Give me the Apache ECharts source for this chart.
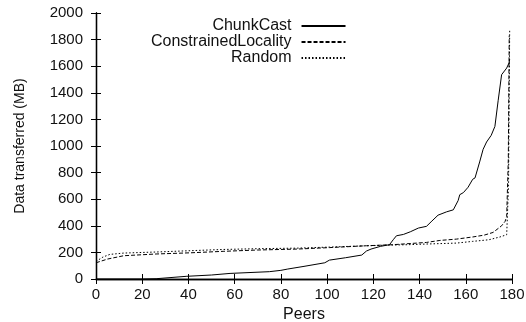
<!DOCTYPE html>
<html>
<head>
<meta charset="utf-8">
<script src="https://cdn.jsdelivr.net/npm/echarts@6/dist/echarts.min.js"></script>
<style>
  html, body { margin: 0; padding: 0; background: #fff; }
  #chart { width: 526px; height: 322px; }
</style>
</head>
<body>
<div id="chart"></div>
<script>
// values: [peers, MB]
const chunkCast = [
  [0, 0], [20, 0], [26, 2], [39, 20], [50, 30], [58, 42], [75, 55], [80, 65], [83, 75],
  [90, 95], [99, 122], [101, 142], [108, 160], [115, 180], [117, 210], [119, 225],
  [123, 245], [127, 258], [128.6, 295], [130, 325], [133, 335], [136, 355], [139.5, 383],
  [143, 396], [145, 430], [148, 480], [151.7, 505], [154.6, 520], [156.7, 590], [157.4, 634],
  [159, 650], [161, 690], [163, 750], [164, 760], [166, 880], [167.5, 975], [169, 1030],
  [171, 1080], [172.6, 1147], [174, 1340], [175.5, 1536], [177.7, 1586], [178.7, 1624], [179, 1650]
];
const constrainedLocality = [
  [0, 122], [5, 150], [12, 175], [26, 188], [41, 197], [55, 208], [70, 218], [87, 225],
  [101, 236], [117, 250], [128.6, 258], [143, 275], [148.8, 290], [156, 300], [163, 316],
  [168, 330], [171.8, 350], [175.5, 400], [177, 433], [177.7, 470], [178.4, 900], [178.8, 1830]
];
const random = [
  [0, 132], [3, 165], [6, 185], [12, 195], [26, 203], [41, 213], [55, 222], [70, 228],
  [87, 232], [101, 240], [114, 248], [125, 254], [135, 258], [143, 263], [156, 270],
  [163, 283], [170, 295], [174.8, 316], [177.7, 333], [178.5, 700], [179, 1880]
];
const seriesNames = ['ChunkCast', 'ConstrainedLocality', 'Random'];

const txt = '#111';
const font = 'Liberation Sans';

const xBase = {
  type: 'value', min: 0, max: 180, interval: 20,
  axisLine: { show: true, lineStyle: { color: '#000', width: 1.3 } },
  axisTick: { show: true, inside: true, length: 5, lineStyle: { color: '#000' } },
  splitLine: { show: false }
};
const yBase = {
  type: 'value', min: 0, max: 2000, interval: 200,
  axisLine: { show: true, lineStyle: { color: '#000', width: 1.3 } },
  axisTick: { show: true, inside: true, length: 5, lineStyle: { color: '#000' } },
  splitLine: { show: false }
};

const option = {
  animation: false,
  textStyle: { fontFamily: font, color: txt },
  grid: { left: 96, right: 14, top: 13, bottom: 43, containLabel: false, outerBoundsMode: 'none' },
  legend: {
    data: seriesNames,
    orient: 'vertical',
    align: 'right',
    left: 151, top: 18,
    padding: 0,
    itemGap: 0,
    itemWidth: 44,
    itemHeight: 14,
    itemStyle: { opacity: 0 },
    textStyle: { fontSize: 16, color: txt, fontFamily: font, lineHeight: 14, padding: [0, 5, 0, 0] }
  },
  xAxis: [
    {
      ...xBase, position: 'bottom',
      name: 'Peers', nameLocation: 'middle', nameGap: 28,
      nameTextStyle: { fontSize: 16, color: txt, fontFamily: font },
      axisLabel: { fontSize: 15, color: txt, margin: 8, fontFamily: font }
    },
    { ...xBase, position: 'top', axisLabel: { show: false } }
  ],
  yAxis: [
    {
      ...yBase, position: 'left',
      name: 'Data transferred (MB)', nameLocation: 'middle', nameGap: 69, nameRotate: 90,
      nameTextStyle: { fontSize: 14, color: txt, fontFamily: font },
      axisLabel: { fontSize: 15, color: txt, margin: 13, fontFamily: font, formatter: v => String(v) }
    },
    { ...yBase, position: 'right', axisLabel: { show: false } }
  ],
  series: [
    { name: seriesNames[0], data: chunkCast, lineStyle: { type: 'solid' } },
    { name: seriesNames[1], data: constrainedLocality, lineStyle: { type: [4, 2] } },
    { name: seriesNames[2], data: random, lineStyle: { type: [1.5, 2] } }
  ].map(o => ({
    ...o,
    type: 'line',
    xAxisIndex: 0,
    yAxisIndex: 0,
    symbol: 'none',
    showSymbol: false,
    color: '#000',
    lineStyle: { ...o.lineStyle, width: 1, color: '#000' }
  }))
};

const myChart = echarts.init(document.getElementById('chart'));
myChart.setOption(option);
</script>
</body>
</html>
